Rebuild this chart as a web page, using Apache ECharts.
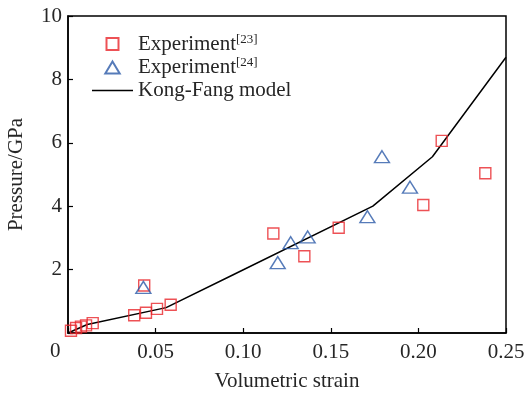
<!DOCTYPE html>
<html>
<head>
<meta charset="utf-8">
<script src="https://cdn.jsdelivr.net/npm/echarts@6/dist/echarts.min.js"></script>
<style>
  html, body { margin: 0; padding: 0; background: #fff; }
  #chart { width: 525px; height: 394px; }
</style>
</head>
<body>
<div id="chart"></div>
<script>
// Experiment [23]: volumetric strain vs pressure (GPa)
const exp23Strain = [0.0017, 0.0046, 0.0074, 0.0103, 0.0141, 0.0378, 0.0445, 0.0435, 0.0508, 0.0586, 0.1172, 0.1349, 0.1545, 0.2028, 0.2133, 0.2382];
const exp23Pressure = [0.07, 0.16, 0.20, 0.24, 0.31, 0.56, 0.64, 1.50, 0.76, 0.89, 3.14, 2.42, 3.32, 4.04, 6.06, 5.04];

// Experiment [24]
const exp24Strain = [0.0430, 0.1197, 0.1271, 0.1368, 0.1709, 0.1792, 0.1952];
const exp24Pressure = [1.44, 2.22, 2.85, 3.03, 3.67, 5.56, 4.60];

// Kong-Fang model curve
const modelStrain = [0, 0.011, 0.056, 0.094, 0.174, 0.208, 0.25];
const modelPressure = [0, 0.27, 0.80, 1.83, 4.00, 5.56, 8.70];

const xTicks = [0, 0.05, 0.10, 0.15, 0.20, 0.25];
const yTicks = [0, 2, 4, 6, 8, 10];

const zip = (a, b) => a.map((v, i) => [v, b[i]]);

const FONT = '"Liberation Serif", "DejaVu Serif", serif';
const TXT = '#262626';
const FS = 21;

const RED = '#e8262b';
const BLUE = '#2c5aa8';

// legend icons keep their aspect inside the wide icon box
const SQUARE_ICON = 'path://M0,0H10V10H0Z';
const TRIANGLE_ICON = 'path://M6,0L12,10H0Z';
const LINE_ICON = 'path://M0,0H41V1.5H0Z';

const chart = echarts.init(document.getElementById('chart'));
chart.setOption({
  animation: false,
  textStyle: { fontFamily: FONT, color: TXT },
  grid: {
    left: 68, right: 19, top: 16, bottom: 61,
    containLabel: false,
    outerBoundsMode: 'none',
    show: true, borderColor: '#000', borderWidth: 1.5, backgroundColor: 'transparent'
  },
  xAxis: {
    type: 'value',
    min: xTicks[0], max: xTicks[xTicks.length - 1], interval: 0.05,
    name: 'Volumetric strain',
    nameLocation: 'middle', nameGap: 38,
    nameTextStyle: { fontFamily: FONT, fontSize: FS, color: TXT },
    axisLine: { show: true, lineStyle: { color: '#000', width: 1.5 } },
    axisTick: { show: true, inside: true, length: 5, lineStyle: { color: '#000', width: 1.2 } },
    axisLabel: {
      fontFamily: FONT, fontSize: FS, color: TXT, margin: 9,
      formatter: v => (v === 0 ? '' : v.toFixed(2))
    },
    splitLine: { show: false }
  },
  yAxis: {
    type: 'value',
    min: yTicks[0], max: yTicks[yTicks.length - 1], interval: 2,
    name: 'Pressure/GPa',
    nameLocation: 'middle', nameGap: 41, nameRotate: 90,
    nameTextStyle: { fontFamily: FONT, fontSize: FS, color: TXT },
    axisLine: { show: true, lineStyle: { color: '#000', width: 1.5 } },
    axisTick: { show: true, inside: true, length: 5, lineStyle: { color: '#000', width: 1.2 } },
    axisLabel: {
      fontFamily: FONT, fontSize: FS, color: TXT, margin: 6,
      formatter: v => (v === 0 ? '' : String(v))
    },
    splitLine: { show: false }
  },
  graphic: [{
    type: 'text', left: 50, top: 341,
    style: { text: '0', font: FS + 'px ' + FONT, fill: TXT }
  }],
  legend: {
    orient: 'vertical',
    left: 87, top: 28,
    itemWidth: 41, itemHeight: 12, itemGap: 2,
    textStyle: {
      fontFamily: FONT, fontSize: FS, color: TXT,
      rich: {
        m: { fontFamily: FONT, fontSize: FS, color: TXT },
        s: { fontFamily: FONT, fontSize: 13, color: TXT, verticalAlign: 'top', padding: [0, 0, 9, 0] }
      }
    },
    formatter: name => {
      const m = name.match(/^(.*)(\[\d+\])$/);
      return m ? '{m|' + m[1] + '}{s|' + m[2] + '}' : '{m|' + name + '}';
    },
    data: [
      { name: 'Experiment[23]', icon: SQUARE_ICON },
      { name: 'Experiment[24]', icon: TRIANGLE_ICON },
      { name: 'Kong-Fang model', icon: LINE_ICON, itemStyle: { color: '#000', borderWidth: 0 } }
    ]
  },
  series: [
    {
      name: 'Kong-Fang model',
      type: 'line',
      data: zip(modelStrain, modelPressure),
      symbol: 'none',
      lineStyle: { color: '#000', width: 1.5 },
      itemStyle: { color: '#000' },
      z: 1
    },
    {
      name: 'Experiment[23]',
      type: 'scatter',
      data: zip(exp23Strain, exp23Pressure),
      symbol: 'rect',
      symbolSize: 11,
      itemStyle: { color: 'rgba(0,0,0,0)', borderColor: RED, borderWidth: 1.4 },
      z: 3
    },
    {
      name: 'Experiment[24]',
      type: 'scatter',
      data: zip(exp24Strain, exp24Pressure),
      symbol: 'triangle',
      symbolSize: [15, 12],
      itemStyle: { color: 'rgba(0,0,0,0)', borderColor: BLUE, borderWidth: 1.4 },
      z: 3
    }
  ]
});
</script>
</body>
</html>
